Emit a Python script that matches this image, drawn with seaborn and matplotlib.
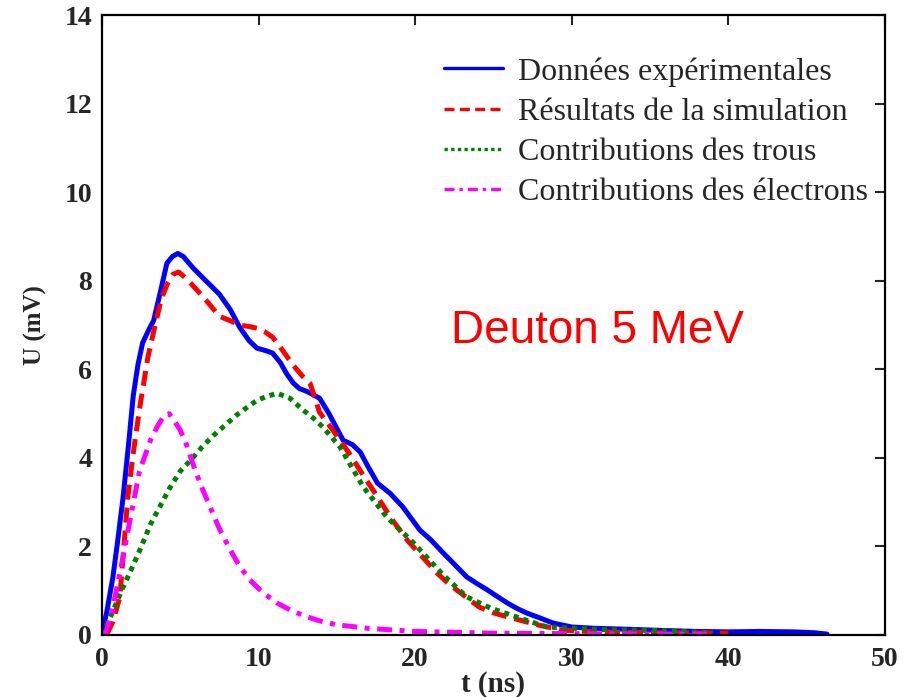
import matplotlib
matplotlib.use("Agg")
import matplotlib.pyplot as plt
import seaborn as sns
import pandas as pd

# ---- data ----
t_exp = [0, 0.3, 0.7, 1.0, 1.35, 1.7, 2.0, 2.3, 2.6, 3.0, 3.3, 3.7, 4.15, 4.5, 4.85, 5.2,
         5.8, 6.5, 7.5, 8.2, 8.8, 9.4, 9.9, 10.5, 10.9, 11.4, 11.8, 12.2, 12.6, 13.1, 13.9,
         14.5, 15.4, 16.0, 16.5, 17.0, 17.6, 18.4, 19.2, 20.3, 21.0, 21.8, 22.5, 23.3, 24.0,
         24.6, 25.2, 25.9, 26.5, 27.1, 28.0, 28.8, 30.0, 31.5, 33.5, 36.0, 38.0, 40.0, 42.0,
         44.2, 45.5, 46.3]
u_exp = [0.05, 0.5, 1.3, 2.1, 3.1, 4.3, 5.4, 6.1, 6.6, 6.9, 7.1, 7.7, 8.4, 8.55, 8.62, 8.55,
         8.3, 8.05, 7.7, 7.35, 6.95, 6.65, 6.48, 6.42, 6.37, 6.15, 5.9, 5.7, 5.57, 5.5, 5.35,
         5.0, 4.4, 4.3, 4.13, 3.8, 3.43, 3.2, 2.9, 2.37, 2.15, 1.85, 1.6, 1.31, 1.15,
         1.02, 0.88, 0.72, 0.6, 0.5, 0.38, 0.27, 0.18, 0.15, 0.13, 0.1, 0.08, 0.07, 0.08,
         0.07, 0.05, 0.02]

t_sim = [0.3, 0.7, 1.15, 1.65, 2.0, 2.4, 2.95, 3.4, 3.8, 4.2, 4.55, 4.9, 5.4, 6.05, 6.8, 7.5,
         8.2, 8.8, 9.4, 9.9, 10.4, 10.9, 11.5, 12.2, 12.8, 13.3, 13.9, 14.8, 15.8, 16.7, 17.6,
         18.5, 19.5, 20.5, 21.4, 22.1, 22.9, 24.1, 25.0, 25.9, 27.8, 29.4, 31.0, 33.0, 36.0,
         40.0]
u_sim = [0.0, 0.3, 0.86, 3.1, 4.1, 5.1, 6.3, 7.0, 7.6, 7.95, 8.15, 8.2, 8.05, 7.8, 7.5, 7.2,
         7.1, 7.0, 6.97, 6.93, 6.85, 6.73, 6.45, 6.1, 5.85, 5.68, 5.03, 4.6, 4.1, 3.6, 3.12,
         2.62, 2.14, 1.75, 1.4, 1.17, 0.95, 0.63, 0.5, 0.41, 0.23, 0.11, 0.08, 0.06, 0.05,
         0.04]

t_holes = [0, 0.6, 1.35, 1.9, 2.4, 3.1, 3.7, 4.3, 5.0, 5.8, 6.4, 7.1, 7.9, 8.6, 9.3, 9.9,
           10.6, 11.2, 12.0, 12.85, 13.5, 14.1, 15.2, 16.7, 18.2, 19.9, 21.8, 23.3, 24.8,
           26.7, 28.4, 30.0, 32.0, 35.5, 39.0]
u_holes = [0, 0.45, 1.08, 1.5, 1.9, 2.5, 2.9, 3.3, 3.7, 4.0, 4.25, 4.5, 4.75, 4.97, 5.15,
           5.3, 5.4, 5.46, 5.35, 5.08, 4.9, 4.7, 4.25, 3.34, 2.66, 2.08, 1.35, 0.86, 0.61,
           0.38, 0.18, 0.15, 0.12, 0.1, 0.05]

t_elec = [0.2, 0.6, 1.15, 1.8, 2.4, 3.1, 3.6, 4.0, 4.3, 4.6, 5.0, 5.4, 5.8, 6.3, 6.9, 7.5,
          8.2, 8.8, 9.45, 10.3, 11.2, 12.1, 13.1, 14.0, 15.0, 17.0, 20.0, 25.0, 30.0, 35.0,
          39.0]
u_elec = [0.0, 0.45, 1.4, 2.6, 3.7, 4.4, 4.75, 4.97, 5.0, 4.85, 4.63, 4.3, 3.88, 3.4, 2.9,
          2.4, 1.92, 1.55, 1.24, 0.95, 0.72, 0.55, 0.41, 0.31, 0.23, 0.15, 0.08, 0.04, 0.03,
          0.02, 0.02]

series_names = ["Données expérimentales", "Résultats de la simulation",
                "Contributions des trous", "Contributions des électrons"]
series_colors = ["#0000ff", "#ff0000", "#008000", "#ff00ff"]
series_styles = ["-", (0, (3, 1.6)), (0, (1, 1)), (0, (3, 1.5, 1, 1.5))]

x_ticks = [0, 10, 20, 30, 40, 50]
y_ticks = [0, 2, 4, 6, 8, 10, 12, 14]

# ---- plot ----
sns.set_theme(style="white")
plt.rcParams["font.family"] = ["Liberation Serif", "DejaVu Serif"]

fig = plt.figure(figsize=(9.18, 6.97), dpi=100)
ax = fig.add_axes([0.111, 0.089, 0.853, 0.889])

data = [(t_exp, u_exp), (t_sim, u_sim), (t_holes, u_holes), (t_elec, u_elec)]
for (tx, uy), name, col, ls in zip(data, series_names, series_colors, series_styles):
    df = pd.DataFrame({"t": tx, "U": uy})
    sns.lineplot(data=df, x="t", y="U", ax=ax, color=col, linestyle=ls, linewidth=3.6,
                 label=name, sort=False, estimator=None)

ax.set_xlim(0, 50)
ax.set_ylim(0, 14)
ax.set_xticks(x_ticks)
ax.set_yticks(y_ticks)
ax.tick_params(direction="in", length=7, width=1.5, top=True, right=True, labelsize=20)
ax.tick_params(axis="x", pad=9)
ax.tick_params(axis="y", pad=7)
for lab in ax.get_xticklabels() + ax.get_yticklabels():
    lab.set_fontweight("bold")
for sp in ax.spines.values():
    sp.set_visible(True)
    sp.set_color("black")
    sp.set_linewidth(1.6)

ax.set_xlabel("t (ns)", fontsize=21, fontweight="bold")
ax.set_ylabel("U (mV)", fontsize=18, fontweight="bold")
ax.xaxis.set_label_coords(0.5, -0.058)
ax.yaxis.set_label_coords(-0.07, 0.5)

leg = ax.legend(loc="upper right", bbox_to_anchor=(0.99, 0.948), frameon=False,
                fontsize=23, handlelength=1.85, handletextpad=0.45, labelspacing=0.34,
                borderaxespad=0.0, borderpad=0.3)
for ln in leg.get_lines():
    ln.set_linewidth(2.4)

ax.text(22.3, 6.59, "Deuton 5 MeV", color="#ff0000", fontsize=33,
        family=["Liberation Sans", "DejaVu Sans"], ha="left", va="baseline")

fig.savefig("out.png", dpi=100, facecolor="white")
